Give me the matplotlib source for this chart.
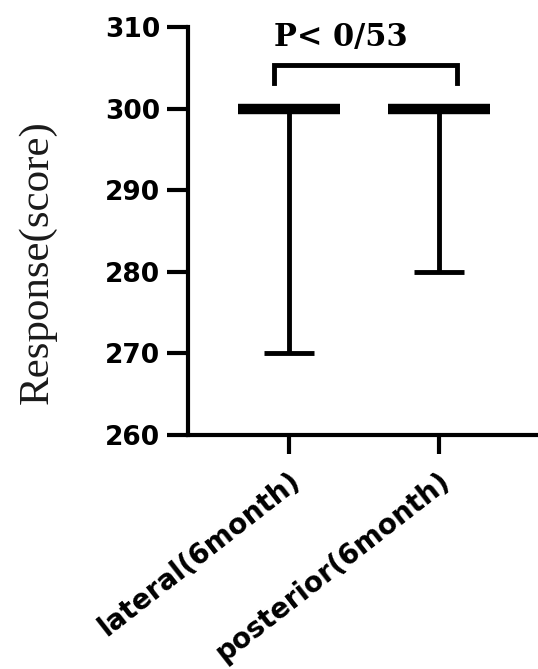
import numpy as np
import matplotlib.pyplot as plt

# data
groups = ['lateral(6month)', 'posterior(6month)']
means = [300, 300]
lows = [270, 280]
y_ticks = [260, 270, 280, 290, 300, 310]
p_text = 'P< 0/53'
bracket_top = 305.4
bracket_leg = 303.2

x = np.arange(len(groups))
means = np.array(means)
lows = np.array(lows)

fig = plt.figure(figsize=(5.38, 6.69), dpi=100)
ax = fig.add_axes([0.3494, 0.3498, 1 - 0.3494, 0.9589 - 0.3498])

# error bars (only downwards) and mean bars
ax.errorbar(x, means, yerr=[means - lows, np.zeros_like(means)], fmt='none',
            ecolor='black', elinewidth=3.5, capsize=18, capthick=3.5, zorder=2)
ax.hlines(means, x - 0.34, x + 0.34, colors='black', linewidth=7.5, zorder=3)

# significance bracket
bx0, bx1 = x[0] - 0.1, x[1] + 0.12
ax.plot([bx0, bx0, bx1, bx1], [bracket_leg, bracket_top, bracket_top, bracket_leg],
        color='black', linewidth=3.5, solid_joinstyle='miter', clip_on=False)
ax.text(bx0, 307.7, p_text, ha='left', va='baseline', fontsize=22,
        fontweight='bold', family='DejaVu Serif', clip_on=False)

ax.set_xlim(-0.673, 1.66)
ax.set_ylim(260, 310)
ax.set_yticks(y_ticks)
ax.set_xticks(x)
ax.set_xticklabels(groups, rotation=38, ha='right', va='top', rotation_mode='anchor',
                   fontsize=20, fontweight='bold', family='DejaVu Sans')
for lab in ax.get_yticklabels():
    lab.set_fontsize(19)
    lab.set_fontweight('bold')
    lab.set_family('DejaVu Sans')

ax.spines['top'].set_visible(False)
ax.spines['right'].set_visible(False)
ax.spines['left'].set_linewidth(3)
ax.spines['bottom'].set_linewidth(3)
ax.tick_params(axis='y', length=15, width=3, pad=5)
ax.tick_params(axis='x', length=14, width=3, pad=9)

ax.set_ylabel('Response(score)', fontsize=31, family='Liberation Serif',
              color='#1a1a1a', va='center')
ax.yaxis.set_label_coords(-0.4286, 0.4245)

fig.savefig('out.png', dpi=100)
